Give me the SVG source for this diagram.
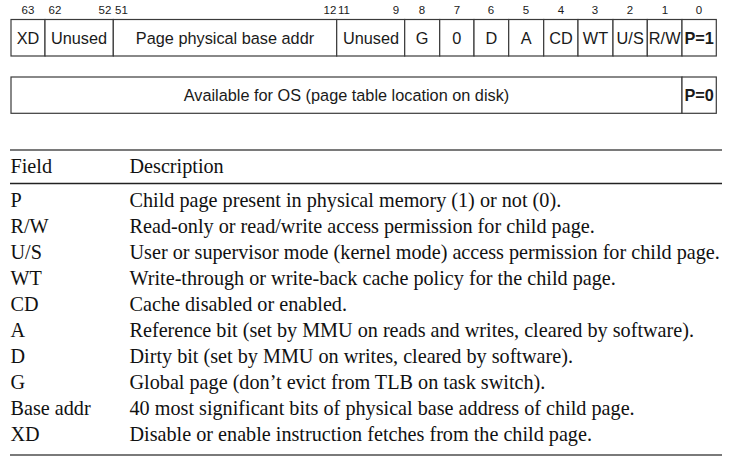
<svg xmlns="http://www.w3.org/2000/svg" width="738" height="467" viewBox="0 0 738 467">
<style>
.cell{fill:#fff;stroke:#3a3a3a;stroke-width:1.2}
.lbl{font-family:"Liberation Sans",Arial,sans-serif;font-size:16.3px;fill:#1a1a1a;text-anchor:middle}
.b{font-weight:bold}
.num{font-family:"Liberation Sans",Arial,sans-serif;font-size:11.5px;fill:#1a1a1a;text-anchor:middle}
.tx{font-family:"Liberation Serif","Times New Roman",serif;font-size:20.2px;fill:#111}
.rule{stroke:#7a7a7a;stroke-width:2}
.mid{stroke:#222;stroke-width:1.3}
</style>
<rect width="738" height="467" fill="#fff"/>
<g id="bit-numbers" class="num">
<text x="28" y="14">63</text>
<text x="55" y="14">62</text>
<text x="105" y="14">52</text>
<text x="121.5" y="14">51</text>
<text x="330" y="14">12</text>
<text x="344" y="14">11</text>
<text x="396" y="14">9</text>
<text x="422" y="14">8</text>
<text x="457" y="14">7</text>
<text x="491" y="14">6</text>
<text x="526" y="14">5</text>
<text x="561" y="14">4</text>
<text x="595" y="14">3</text>
<text x="630" y="14">2</text>
<text x="665" y="14">1</text>
<text x="699" y="14">0</text>
</g>
<g id="entry-present">
<g id="f-xd"><rect class="cell" x="11" y="19.5" width="34" height="36.5"/><text class="lbl" x="28" y="44">XD</text></g>
<g id="f-unused-hi"><rect class="cell" x="45" y="19.5" width="68.3" height="36.5"/><text class="lbl" x="79" y="44">Unused</text></g>
<g id="f-base"><rect class="cell" x="113.3" y="19.5" width="223.4" height="36.5"/><text class="lbl" x="225" y="44">Page physical base addr</text></g>
<g id="f-unused-lo"><rect class="cell" x="336.7" y="19.5" width="68" height="36.5"/><text class="lbl" x="371" y="44">Unused</text></g>
<g id="f-g"><rect class="cell" x="404.7" y="19.5" width="35" height="36.5"/><text class="lbl" x="422.2" y="44">G</text></g>
<g id="f-zero"><rect class="cell" x="439.7" y="19.5" width="34.3" height="36.5"/><text class="lbl" x="456.9" y="44">0</text></g>
<g id="f-d"><rect class="cell" x="474" y="19.5" width="34.7" height="36.5"/><text class="lbl" x="491.4" y="44">D</text></g>
<g id="f-a"><rect class="cell" x="508.7" y="19.5" width="35" height="36.5"/><text class="lbl" x="526.2" y="44">A</text></g>
<g id="f-cd"><rect class="cell" x="543.7" y="19.5" width="34.3" height="36.5"/><text class="lbl" x="560.9" y="44">CD</text></g>
<g id="f-wt"><rect class="cell" x="578" y="19.5" width="35" height="36.5"/><text class="lbl" x="595.5" y="44">WT</text></g>
<g id="f-us"><rect class="cell" x="613" y="19.5" width="34.3" height="36.5"/><text class="lbl" x="630.2" y="44">U/S</text></g>
<g id="f-rw"><rect class="cell" x="647.3" y="19.5" width="34.7" height="36.5"/><text class="lbl" x="664.7" y="44">R/W</text></g>
<g id="f-p1"><rect class="cell" x="682" y="19.5" width="34.3" height="36.5"/><text class="lbl b" x="699.2" y="44">P=1</text></g>
</g>
<g id="entry-absent">
<g id="f-os"><rect class="cell" x="11" y="77" width="671" height="36.3"/><text class="lbl" x="346.5" y="101">Available for OS (page table location on disk)</text></g>
<g id="f-p0"><rect class="cell" x="682" y="77" width="34.3" height="36.3"/><text class="lbl b" x="699.2" y="101">P=0</text></g>
</g>
<g id="table">
<line class="rule" x1="10" y1="150" x2="722" y2="150"/>
<line class="mid" x1="10" y1="183.5" x2="722" y2="183.5"/>
<line class="rule" x1="10" y1="455" x2="722" y2="455"/>
<g class="tx">
<text x="10.5" y="173">Field</text><text x="129.5" y="173">Description</text>
<text x="10.5" y="206.5">P</text><text x="129.5" y="206.5">Child page present in physical memory (1) or not (0).</text>
<text x="10.5" y="232.6">R/W</text><text x="129.5" y="232.6">Read-only or read/write access permission for child page.</text>
<text x="10.5" y="258.7">U/S</text><text x="129.5" y="258.7">User or supervisor mode (kernel mode) access permission for child page.</text>
<text x="10.5" y="284.8">WT</text><text x="129.5" y="284.8">Write-through or write-back cache policy for the child page.</text>
<text x="10.5" y="310.9">CD</text><text x="129.5" y="310.9">Cache disabled or enabled.</text>
<text x="10.5" y="337">A</text><text x="129.5" y="337">Reference bit (set by MMU on reads and writes, cleared by software).</text>
<text x="10.5" y="363.1">D</text><text x="129.5" y="363.1">Dirty bit (set by MMU on writes, cleared by software).</text>
<text x="10.5" y="389.2">G</text><text x="129.5" y="389.2">Global page (don’t evict from TLB on task switch).</text>
<text x="10.5" y="415.3">Base addr</text><text x="129.5" y="415.3">40 most significant bits of physical base address of child page.</text>
<text x="10.5" y="441.4">XD</text><text x="129.5" y="441.4">Disable or enable instruction fetches from the child page.</text>
</g>
</g>
</svg>
